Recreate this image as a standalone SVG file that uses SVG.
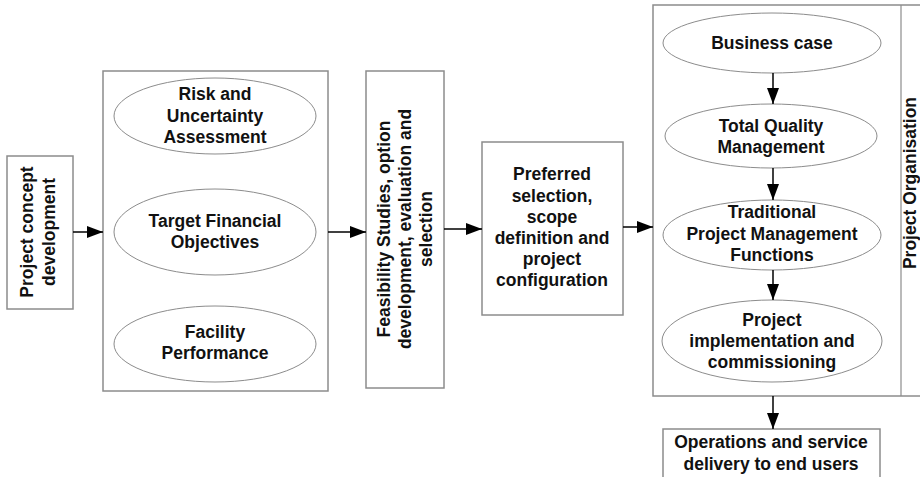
<svg xmlns="http://www.w3.org/2000/svg" width="920" height="477" viewBox="0 0 920 477">
  <defs>
    <marker id="arrow" markerWidth="16" markerHeight="12" refX="16" refY="6" orient="auto" markerUnits="userSpaceOnUse">
      <path d="M0,0 L16,6 L0,12 Z" fill="#000"/>
    </marker>
  </defs>
  <style>
    .box { fill: #fff; stroke: #8c8c8c; stroke-width: 1.5; }
    .oval { fill: #fff; stroke: #8c8c8c; stroke-width: 1; }
    .lbl { font-family: "Liberation Sans", Arial, sans-serif; font-weight: bold; font-size: 17.5px; fill: #111; text-anchor: middle; }
    .link { stroke: #000; stroke-width: 1.5; fill: none; marker-end: url(#arrow); }
  </style>
  <rect width="920" height="477" fill="#fff"/>

  <!-- concept stage -->
  <g id="concept">
    <rect class="box" x="7" y="156" width="66" height="153"/>
    <text class="lbl" transform="translate(33,232) rotate(-90)">Project concept</text>
    <text class="lbl" transform="translate(55,232) rotate(-90)">development</text>
  </g>

  <!-- appraisal group with three drivers -->
  <g id="appraisal">
    <rect class="box" x="103" y="71" width="225" height="320"/>
  </g>
  <g id="risk">
    <ellipse class="oval" cx="215" cy="116" rx="101" ry="38"/>
    <text class="lbl" x="215" y="100">Risk and</text>
    <text class="lbl" x="215" y="122">Uncertainty</text>
    <text class="lbl" x="215" y="143">Assessment</text>
  </g>
  <g id="financial">
    <ellipse class="oval" cx="215" cy="232" rx="101" ry="43"/>
    <text class="lbl" x="215" y="227">Target Financial</text>
    <text class="lbl" x="215" y="248">Objectives</text>
  </g>
  <g id="facility">
    <ellipse class="oval" cx="215" cy="344" rx="101" ry="38"/>
    <text class="lbl" x="215" y="338">Facility</text>
    <text class="lbl" x="215" y="359">Performance</text>
  </g>

  <!-- feasibility stage -->
  <g id="feasibility">
    <rect class="box" x="366" y="71" width="78" height="317"/>
    <text class="lbl" transform="translate(390,229) rotate(-90)">Feasibility Studies, option</text>
    <text class="lbl" transform="translate(411,229) rotate(-90)">development, evaluation and</text>
    <text class="lbl" transform="translate(432,229) rotate(-90)">selection</text>
  </g>

  <!-- preferred option stage -->
  <g id="preferred">
    <rect class="box" x="482" y="142" width="141" height="173"/>
    <text class="lbl" x="552" y="180">Preferred</text>
    <text class="lbl" x="552" y="202">selection,</text>
    <text class="lbl" x="552" y="223">scope</text>
    <text class="lbl" x="552" y="244">definition and</text>
    <text class="lbl" x="552" y="265">project</text>
    <text class="lbl" x="552" y="286">configuration</text>
  </g>

  <!-- delivery stage with organisation strip -->
  <g id="delivery">
    <rect class="box" x="653" y="5" width="280" height="391"/>
    <line x1="901" y1="5" x2="901" y2="396" stroke="#8c8c8c" stroke-width="1.2"/>
  </g>
  <g id="organisation">
    <text class="lbl" transform="translate(916,183) rotate(-90)">Project Organisation</text>
  </g>
  <g id="business-case">
    <ellipse class="oval" cx="772" cy="43" rx="109" ry="30"/>
    <text class="lbl" x="772" y="49">Business case</text>
  </g>
  <g id="tqm">
    <ellipse class="oval" cx="771" cy="136" rx="106" ry="32"/>
    <text class="lbl" x="771" y="132">Total Quality</text>
    <text class="lbl" x="771" y="153">Management</text>
  </g>
  <g id="traditional">
    <ellipse class="oval" cx="772" cy="235" rx="109" ry="35"/>
    <text class="lbl" x="772" y="218">Traditional</text>
    <text class="lbl" x="772" y="240">Project Management</text>
    <text class="lbl" x="772" y="261">Functions</text>
  </g>
  <g id="implementation">
    <ellipse class="oval" cx="772" cy="341" rx="110" ry="41"/>
    <text class="lbl" x="772" y="326">Project</text>
    <text class="lbl" x="772" y="347">implementation and</text>
    <text class="lbl" x="772" y="368">commissioning</text>
  </g>

  <!-- end-user stage -->
  <g id="operations">
    <rect class="box" x="663" y="429" width="217" height="60"/>
    <text class="lbl" x="771" y="448">Operations and service</text>
    <text class="lbl" x="771" y="470">delivery to end users</text>
  </g>

  <!-- flow connectors -->
  <g id="connectors">
    <line class="link" x1="73" y1="232" x2="103" y2="232"/>
    <line class="link" x1="328" y1="232" x2="366" y2="232"/>
    <line class="link" x1="444" y1="229" x2="482" y2="229"/>
    <line class="link" x1="623" y1="227" x2="653" y2="227"/>
    <line class="link" x1="773" y1="73" x2="773" y2="104"/>
    <line class="link" x1="773" y1="168" x2="773" y2="200"/>
    <line class="link" x1="773" y1="270" x2="773" y2="300"/>
    <line class="link" x1="773" y1="396" x2="773" y2="429"/>
  </g>
</svg>
